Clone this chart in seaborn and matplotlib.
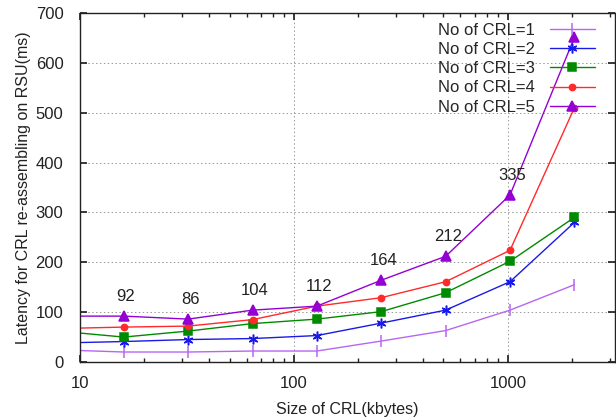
import matplotlib
matplotlib.use("Agg")
import matplotlib.pyplot as plt
import matplotlib.ticker as mticker
import seaborn as sns
import pandas as pd

# CRL sizes (kbytes); first point sits on the left axis edge, no marker there
sizes = [10, 16, 32, 64, 128, 256, 512, 1024, 2048]

crl1 = [23, 20, 20, 22, 22, 42, 63, 104, 155]
crl2 = [39, 41, 45, 47, 53, 78, 104, 161, 280]
crl3 = [58, 50, 62, 77, 86, 101, 139, 202, 290]
crl4 = [68, 70, 72, 85, 112, 129, 161, 224, 510]
crl5 = [92, 92, 86, 104, 112, 164, 212, 335, 651]

labels = ["No of CRL=1", "No of CRL=2", "No of CRL=3", "No of CRL=4", "No of CRL=5"]
annot_vals = [92, 86, 104, 112, 164, 212, 335]

colors = ["#b866f2", "#1a1ae6", "#008a00", "#ff2a2a", "#9400d3"]
markers = ["|", (6, 2, 0), "s", "o", "^"]
msizes = [8, 7, 6, 4.5, 6.5]

sns.set_theme(style="ticks")
plt.rcParams["font.family"] = ["Liberation Sans", "DejaVu Sans"]

fig = plt.figure(figsize=(6.16, 4.18), dpi=100)
ax = fig.add_axes([0.130, 0.134, 0.868, 0.835])

series = [crl1, crl2, crl3, crl4, crl5]
for vals, lab, c, m, ms in zip(series, labels, colors, markers, msizes):
    df = pd.DataFrame({"size": sizes, "latency": vals})
    sns.lineplot(data=df, x="size", y="latency", ax=ax, color=c, marker=m,
                 markersize=ms, markeredgecolor=c, markeredgewidth=1.1,
                 markevery=list(range(1, len(sizes))), linewidth=1.0,
                 label=lab)

for x, v in zip(sizes[1:], annot_vals):
    ax.annotate(str(v), (x, v), textcoords="offset pixels", xytext=(2, 12),
                ha="center", va="bottom", fontsize=12, color="#222222")

ax.set_xscale("log")
ax.set_xlim(10, 10 ** 3.5)
ax.set_ylim(0, 700)
ax.set_yticks(range(0, 701, 100))
ax.xaxis.set_major_formatter(mticker.FuncFormatter(lambda v, p: f"{v:g}"))
ax.tick_params(axis="both", which="both", direction="in", top=True, right=True,
               labelsize=12, colors="#222222")
ax.tick_params(which="major", length=5)
ax.tick_params(which="minor", length=3)
ax.tick_params(axis="x", pad=10)
ax.tick_params(axis="y", pad=12)
ax.grid(True, which="major", linestyle=(0, (1.5, 2.5)), color="#999999", linewidth=0.7)
for s in ax.spines.values():
    s.set_linewidth(1.0)
    s.set_color("#222222")

ax.set_xlabel("Size of CRL(kbytes)", fontsize=11.5, color="#222222", labelpad=8)
ax.set_ylabel("Latency for CRL re-assembling on RSU(ms)", fontsize=11.5,
              color="#222222", labelpad=3)

ax.legend(loc="upper right", frameon=False, markerfirst=False, fontsize=12,
          handlelength=2.7, borderaxespad=0.2, labelspacing=0.25,
          handletextpad=0.9, bbox_to_anchor=(0.981, 1.0))

fig.savefig("out.png", dpi=100)
